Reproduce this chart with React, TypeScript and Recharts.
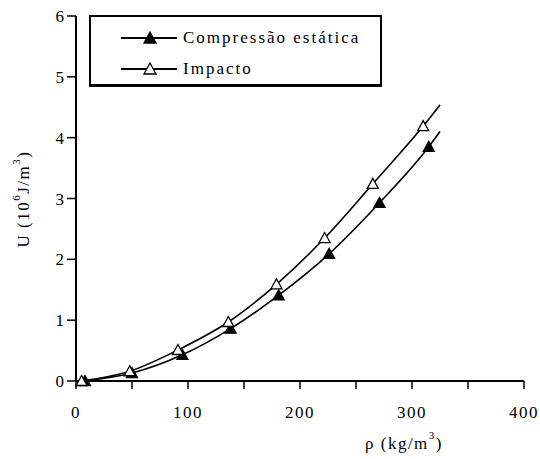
import { LineChart, Line, XAxis, YAxis } from 'recharts'

// densidade (kg/m3) e energia absorvida (10^6 J/m3)
const compX = [8, 50, 95, 138, 181, 226, 271, 315, 325]
const compU = [0, 0.13, 0.43, 0.86, 1.41, 2.09, 2.93, 3.85, 4.1]
const impX = [5, 48, 91, 136, 179, 222, 265, 310, 325]
const impU = [0, 0.16, 0.51, 0.97, 1.59, 2.35, 3.24, 4.19, 4.54]

const xTicks = [0, 50, 100, 150, 200, 250, 300, 350, 400]
const yTicks = [0, 1, 2, 3, 4, 5, 6]

const compData = compX.map((x, i) => ({ x, u: compU[i] }))
const impData = impX.map((x, i) => ({ x, u: impU[i] }))

const FONT = '"Liberation Serif"'

const Tri = ({ cx, cy, filled, index, last }: any) => {
  if (index === last || cx == null) return null
  const w = 5.5, h = 9
  const pts = `${cx},${cy - h / 2 - 1} ${cx - w},${cy + h / 2} ${cx + w},${cy + h / 2}`
  return <polygon points={pts} fill={filled ? '#000' : '#fff'} stroke="#000" strokeWidth={1.3} />
}

const XTick = ({ x, y, payload }: any) => {
  if (payload.value % 100 !== 0) return null
  return (
    <text x={x} y={y + 27} textAnchor="middle" fontSize={17} fontFamily={FONT} letterSpacing={1.5} fill="#000">
      {payload.value}
    </text>
  )
}

const YTick = ({ x, y, payload }: any) => (
  <text x={x - 1} y={y + 6} textAnchor="end" fontSize={17} fontFamily={FONT} fill="#000">
    {payload.value}
  </text>
)

const LegendBox = () => {
  const row = (label: string, filled: boolean) => (
    <div style={{ display: 'flex', alignItems: 'center', height: 31 }}>
      <svg width={64} height={16} style={{ marginLeft: 28 }}>
        <line x1={2} y1={8} x2={58} y2={8} stroke="#000" strokeWidth={2} />
        <polygon points="31,2 25,13 37,13" fill={filled ? '#000' : '#fff'} stroke="#000" strokeWidth={1.3} />
      </svg>
      <span style={{ fontFamily: FONT, fontSize: 17, letterSpacing: 2, marginLeft: 0, color: '#000' }}>{label}</span>
    </div>
  )
  return (
    <div style={{
      position: 'absolute', left: 89, top: 15,
      width: 289, height: 62, border: '2px solid #000', borderBottomWidth: 3,
      background: '#fff', paddingTop: 5,
    }}>
      {row('Compressão estática', true)}
      {row('Impacto', false)}
    </div>
  )
}

export default function App() {
  return (
    <div style={{ position: 'absolute', left: 0, top: 0, width: 540, height: 459, background: '#fff' }}>
      <LineChart width={540} height={459} margin={{ top: 16, right: 16, bottom: 0, left: 0 }}>
        <XAxis
          type="number"
          dataKey="x"
          domain={[0, 400]}
          ticks={xTicks}
          tick={<XTick />}
          tickSize={8}
          tickLine={{ stroke: '#000', strokeWidth: 1.5 }}
          axisLine={{ stroke: '#000', strokeWidth: 2 }}
          height={78}
          interval={0}
          allowDuplicatedCategory={false}
          label={{
            content: () => (
              <text x={365} y={449} fontSize={17} fontFamily={FONT} letterSpacing={1.5} fill="#000">
                ρ (kg/m<tspan dy={-10} fontSize={11}>3</tspan><tspan dy={10}>)</tspan>
              </text>
            ),
          }}
        />
        <YAxis
          type="number"
          dataKey="u"
          domain={[0, 6]}
          ticks={yTicks}
          tick={<YTick />}
          tickSize={9}
          tickLine={{ stroke: '#000', strokeWidth: 1.5 }}
          axisLine={{ stroke: '#000', strokeWidth: 2 }}
          width={76}
          interval={0}
          label={{
            content: () => (
              <text
                x={0}
                y={0}
                transform="translate(29,199) rotate(-90)"
                textAnchor="middle"
                fontSize={17}
                fontFamily={FONT}
                letterSpacing={1.5}
                fill="#000"
              >
                U (10<tspan dy={-9} fontSize={11}>6</tspan><tspan dy={9}>J/m</tspan>
                <tspan dy={-9} fontSize={11}>3</tspan><tspan dy={9}>)</tspan>
              </text>
            ),
          }}
        />
        <Line
          data={compData}
          dataKey="u"
          name="Compressão estática"
          type="monotone"
          stroke="#000"
          strokeWidth={1.6}
          dot={(p: any) => <Tri key={`c${p.index}`} {...p} filled last={compData.length - 1} />}
          activeDot={false}
          isAnimationActive={false}
        />
        <Line
          data={impData}
          dataKey="u"
          name="Impacto"
          type="monotone"
          stroke="#000"
          strokeWidth={1.6}
          dot={(p: any) => <Tri key={`i${p.index}`} {...p} filled={false} last={impData.length - 1} />}
          activeDot={false}
          isAnimationActive={false}
        />
      </LineChart>
      <LegendBox />
    </div>
  )
}
